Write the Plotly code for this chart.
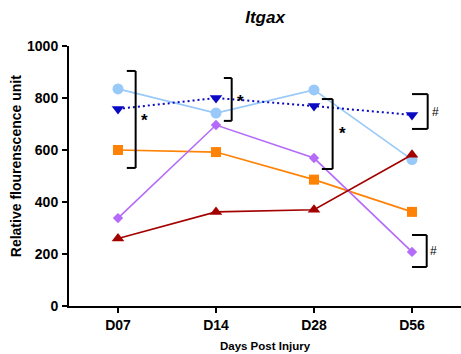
import plotly.graph_objects as go

days = ["D07", "D14", "D28", "D56"]

lightblue_vals = [835, 742, 831, 563]
navy_vals = [758, 800, 769, 735]
orange_vals = [600, 592, 486, 362]
purple_vals = [338, 696, 569, 208]
darkred_vals = [260, 362, 370, 582]

y_ticks = [0, 200, 400, 600, 800, 1000]

series = [
    (lightblue_vals, "#99C9F9", "circle", 11, "solid"),
    (navy_vals, "#0A0AC2", "triangle-down", 11, "2px,3px"),
    (orange_vals, "#FF8204", "square", 10, "solid"),
    (purple_vals, "#B56BFA", "diamond", 8, "solid"),
    (darkred_vals, "#A30000", "triangle-up", 11, "solid"),
]

FONT = "Arial, Liberation Sans, Helvetica, sans-serif"

fig = go.Figure()
for vals, color, symbol, size, dash in series:
    fig.add_trace(go.Scatter(
        x=list(range(len(days))), y=vals, mode="lines+markers",
        line=dict(color=color, width=2 if dash != "solid" else 1.6, dash=dash),
        marker=dict(symbol=symbol, size=size, color=color),
        showlegend=False, cliponaxis=False,
    ))

# significance brackets: (x_left, x_right, y_bottom, y_top, label, label_x, label_y)
brackets = [
    (0.09, 0.18, 531, 904, "*", 0.27, 712),
    (1.08, 1.16, 712, 877, "*", 1.245, 788),
    (2.08, 2.19, 527, 796, "*", 2.29, 662),
    (3.0, 3.16, 681, 815, "#", 3.235, 748),
    (3.0, 3.15, 150, 273, "#", 3.22, 210),
]
for x0, x1, yb, yt, lab, lx, ly in brackets:
    style = dict(color="black", width=2)
    fig.add_shape(type="line", x0=x1, x1=x1, y0=yb, y1=yt, line=style, xref="x", yref="y")
    fig.add_shape(type="line", x0=x0, x1=x1, y0=yt, y1=yt, line=style, xref="x", yref="y")
    fig.add_shape(type="line", x0=x0, x1=x1, y0=yb, y1=yb, line=style, xref="x", yref="y")
    txt = "<b>*</b>" if lab == "*" else lab
    fig.add_annotation(x=lx, y=ly, text=txt, showarrow=False, xref="x", yref="y",
                       font=dict(family=FONT, size=17 if lab == "*" else 12, color="black"))

# rotated y-axis title
fig.add_annotation(text="<b>Relative flourenscence unit</b>", textangle=-90,
                   xref="paper", yref="paper", x=-0.135, y=0.538,
                   xanchor="center", yanchor="middle", showarrow=False,
                   font=dict(family=FONT, size=14, color="black"))

fig.update_layout(
    width=461, height=354,
    margin=dict(l=69, r=0, t=46, b=48),
    paper_bgcolor="white", plot_bgcolor="white",
    font=dict(family=FONT, color="black"),
    title=dict(text="<b><i>Itgax</i></b>", xref="paper", x=0.5, xanchor="center",
               yref="container", y=1 - 17 / 354, yanchor="middle",
               font=dict(size=17, color="black")),
)
fig.update_xaxes(
    range=[-0.5, 3.5], tickmode="array", tickvals=list(range(len(days))),
    ticktext=[f"<b>{d}</b>" for d in days],
    showline=True, linecolor="black", linewidth=2, showgrid=False, zeroline=False,
    ticks="outside", ticklen=5, tickwidth=1.5, tickcolor="black",
    tickfont=dict(size=14),
    title=dict(text="<b>Days Post Injury</b>", font=dict(size=11.5), standoff=10),
)
fig.update_yaxes(
    range=[0, 1000], tickvals=y_ticks, ticktext=[f"<b>{v}</b>" for v in y_ticks],
    showline=True, linecolor="black", linewidth=2, showgrid=False, zeroline=False,
    ticks="outside", ticklen=5, tickwidth=1.5, tickcolor="black",
    tickfont=dict(size=14), ticklabelstandoff=1,
)

fig.write_html("out.html")
